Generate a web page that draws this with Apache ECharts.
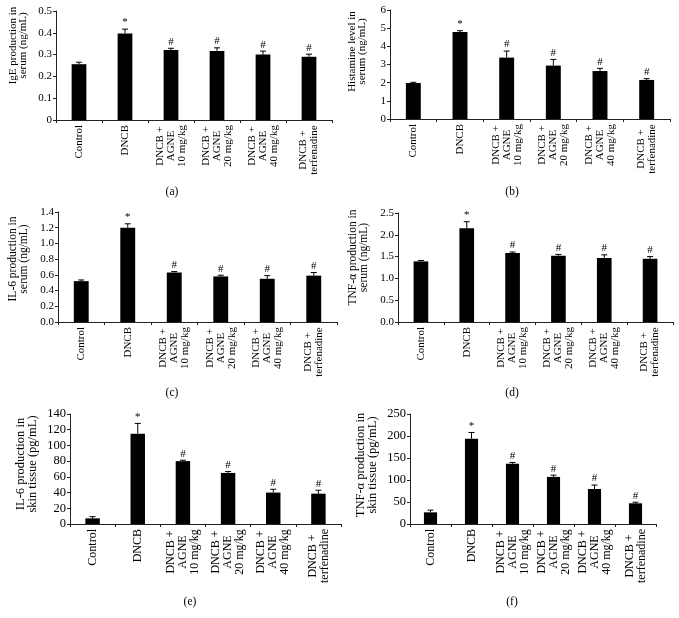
<!DOCTYPE html>
<html>
<head>
<meta charset="utf-8">
<script src="https://cdn.jsdelivr.net/npm/echarts@6/dist/echarts.min.js"></script>
<style>
html,body{margin:0;padding:0;background:#fff;}
#chart{width:679px;height:618px;}
</style>
</head>
<body>
<div id="chart"></div>
<script>
// ---- data ----
const categories = ['Control', 'DNCB', 'DNCB +\nAGNE\n10 mg/kg', 'DNCB +\nAGNE\n20 mg/kg', 'DNCB +\nAGNE\n40 mg/kg', 'DNCB +\nterfenadine'];
const marks = ['', '*', '#', '#', '#', '#'];

const igeSerum = [0.256, 0.397, 0.321, 0.317, 0.300, 0.290];
const igeSerumErr = [0.009, 0.020, 0.008, 0.014, 0.016, 0.012];

const histamineSerum = [1.98, 4.79, 3.38, 2.94, 2.64, 2.15];
const histamineSerumErr = [0.04, 0.07, 0.36, 0.34, 0.15, 0.07];

const il6Serum = [0.52, 1.20, 0.63, 0.58, 0.55, 0.59];
const il6SerumErr = [0.015, 0.05, 0.012, 0.015, 0.04, 0.04];

const tnfSerum = [1.39, 2.15, 1.58, 1.52, 1.47, 1.45];
const tnfSerumErr = [0.02, 0.15, 0.025, 0.03, 0.07, 0.05];

const il6Skin = [7.2, 115, 80, 65, 40, 38.6];
const il6SkinErr = [2.2, 13, 1.2, 1.8, 4.2, 4.4];

const tnfSkin = [26.5, 194, 137, 107, 79.5, 47];
const tnfSkinErr = [5, 14, 3, 4, 9, 2.5];

const yTitles = [
  'IgE production in\nserum (ng/mL)',
  'Histamine level in\nserum (ng/mL)',
  'IL-6 production in\nserum (ng/mL)',
  'TNF-α production in\nserum (ng/mL)',
  'IL-6 production in\nskin tissue (pg/mL)',
  'TNF-α production in\nskin tissue (pg/mL)'
];
const panelLabels = ['(a)', '(b)', '(c)', '(d)', '(e)', '(f)'];

// ---- layout / style ----
const FONT = 'Liberation Serif';
const panels = [
  {vals: igeSerum, errs: igeSerumErr, min: 0, max: 0.5, interval: 0.1, dec: null, fs: 11, cfs: 11, tfs: 11,
   grid: {left: 56, top: 11, width: 276, height: 109}, gap: 28, shift: 40, lab: [167, 181]},
  {vals: histamineSerum, errs: histamineSerumErr, min: 0, max: 6, interval: 1, dec: null, fs: 11, cfs: 11, tfs: 11,
   grid: {left: 390, top: 10, width: 280, height: 109}, gap: 23, shift: 26, lab: [507, 181]},
  {vals: il6Serum, errs: il6SerumErr, min: 0, max: 1.4, interval: 0.2, dec: 1, fs: 11, cfs: 11, tfs: 11.5,
   grid: {left: 58, top: 212, width: 279, height: 110}, gap: 29, shift: 16, lab: [167, 382]},
  {vals: tnfSerum, errs: tnfSerumErr, min: 0, max: 2.5, interval: 0.5, dec: 1, fs: 11, cfs: 11, tfs: 11.5,
   grid: {left: 398, top: 213, width: 275, height: 109}, gap: 29, shift: 20, lab: [507, 382]},
  {vals: il6Skin, errs: il6SkinErr, min: 0, max: 140, interval: 20, dec: null, fs: 12.5, cfs: 12, tfs: 12.5,
   grid: {left: 70, top: 414, width: 271, height: 110}, gap: 32, shift: 10, lab: [185, 591]},
  {vals: tnfSkin, errs: tnfSkinErr, min: 0, max: 250, interval: 50, dec: null, fs: 12.5, cfs: 12, tfs: 12.5,
   grid: {left: 410, top: 414, width: 246, height: 110}, gap: 32, shift: 8, lab: [507, 591]}
];

// measure label lines so multi-line labels are centred within their block
const cvs = document.createElement('canvas').getContext('2d');
function makeRich(fs) {
  cvs.font = fs + 'px "' + FONT + '"';
  const rich = {};
  categories.forEach((c, i) => {
    const w = Math.max(...c.split('\n').map(l => cvs.measureText(l).width));
    rich['c' + i] = {width: Math.ceil(w), align: 'center', fontSize: fs, lineHeight: fs, fontFamily: FONT, color: '#000'};
  });
  return rich;
}
function catFormatter(val) {
  const i = categories.indexOf(val);
  const lines = val.split('\n');
  if (lines.length === 1) return val;
  return lines.map(l => '{c' + i + '|' + l + '}').join('\n');
}

const grids = [], xAxes = [], yAxes = [], series = [], titles = [];
panels.forEach((p, k) => {
  grids.push(Object.assign({containLabel: false}, p.grid));
  xAxes.push({
    type: 'category', gridIndex: k, data: categories,
    axisLine: {lineStyle: {color: '#222', width: 1}},
    axisTick: {show: true, length: 3, lineStyle: {color: '#222'}},
    axisLabel: {rotate: 90, interval: 0, fontFamily: FONT, fontSize: p.cfs, lineHeight: p.cfs, color: '#000', margin: 5,
      formatter: catFormatter, rich: makeRich(p.cfs)}
  });
  yAxes.push({
    type: 'value', gridIndex: k, min: p.min, max: p.max, interval: p.interval,
    splitLine: {show: false},
    axisLine: {show: true, lineStyle: {color: '#222', width: 1}},
    axisTick: {show: true, length: 3, lineStyle: {color: '#222'}},
    axisLabel: {fontFamily: FONT, fontSize: p.fs, color: '#000', margin: 4,
      formatter: v => p.dec === null ? String(+v.toFixed(3)) : v.toFixed(p.dec)},
    name: yTitles[k], nameLocation: 'middle', nameRotate: 90, nameGap: p.gap,
    nameTextStyle: {fontFamily: FONT, fontSize: p.tfs, lineHeight: p.tfs - 1, color: '#000', padding: [0, 0, 0, p.shift]}
  });
  series.push({
    type: 'bar', xAxisIndex: k, yAxisIndex: k, data: p.vals, barWidth: '32%',
    itemStyle: {color: '#000'}, silent: true, animation: false
  });
  series.push({
    type: 'custom', xAxisIndex: k, yAxisIndex: k, animation: false, silent: true,
    data: p.vals.map((v, i) => [i, v, p.errs[i]]),
    renderItem: function (params, api) {
      const x = api.value(0), v = api.value(1), e = api.value(2);
      const base = api.coord([x, v]);
      const top = api.coord([x, v + e]);
      const cap = 3;
      const children = [
        {type: 'line', shape: {x1: base[0], y1: base[1], x2: top[0], y2: top[1]}, style: {stroke: '#000', lineWidth: 1}},
        {type: 'line', shape: {x1: top[0] - cap, y1: top[1], x2: top[0] + cap, y2: top[1]}, style: {stroke: '#000', lineWidth: 1}}
      ];
      const m = marks[params.dataIndex];
      if (m) {
        children.push({type: 'text', x: top[0], y: top[1] - 1,
          style: {text: m, fill: '#000', font: '11px "' + FONT + '"', align: 'center', verticalAlign: 'bottom'}});
      }
      return {type: 'group', children: children};
    }
  });
  titles.push({text: panelLabels[k], left: p.lab[0], top: p.lab[1], textAlign: 'center',
    textStyle: {fontFamily: FONT, fontSize: 11.5, fontWeight: 'normal', color: '#000'}});
});

const chart = echarts.init(document.getElementById('chart'), null, {renderer: 'canvas'});
chart.setOption({
  backgroundColor: '#fff',
  animation: false,
  title: titles,
  grid: grids,
  xAxis: xAxes,
  yAxis: yAxes,
  series: series
});
</script>
</body>
</html>
